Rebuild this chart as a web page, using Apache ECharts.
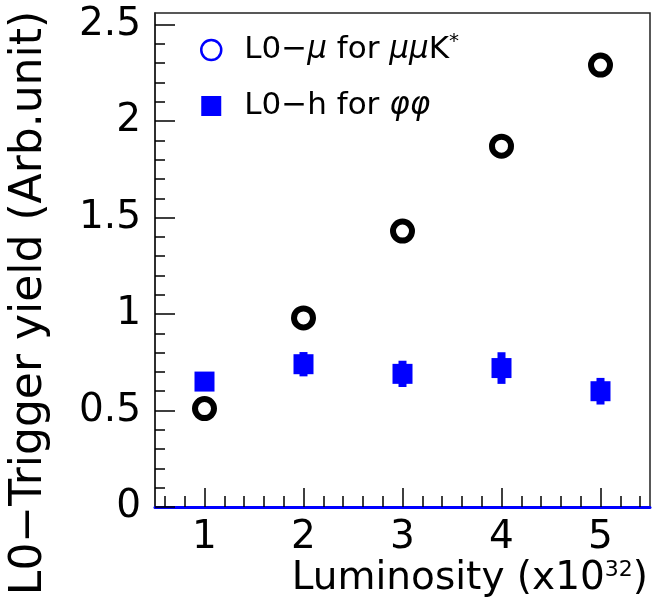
<!DOCTYPE html>
<html>
<head>
<meta charset="utf-8">
<script src="https://cdn.jsdelivr.net/npm/echarts@6/dist/echarts.min.js"></script>
<style>
  html, body { margin: 0; padding: 0; background: #fff; }
  #chart { width: 662px; height: 602px; }
</style>
</head>
<body>
<div id="chart"></div>
<script>
// Luminosity points (units of 1e32)
const luminosity = [1, 2, 3, 4, 5];
// L0-muon trigger yield for mu mu K*
const muonYield = [0.51, 0.98, 1.43, 1.87, 2.29];
// L0-hadron trigger yield for phi phi, with its uncertainty
const hadronYield = [0.65, 0.74, 0.69, 0.72, 0.60];
const hadronErr = [0.03, 0.063, 0.068, 0.082, 0.069];

// Axis ticks
const xMajorTicks = [1, 2, 3, 4, 5];
const yMajorTicks = [0, 0.5, 1, 1.5, 2, 2.5];
const xRange = [0.5, 5.5];
const yRange = [0, 2.56];

function minorTicks(lo, hi, step, majors) {
  const out = [];
  for (let k = Math.ceil(lo / step - 1e-9); k * step <= hi + 1e-9; k++) {
    const v = Math.round(k * step * 1000) / 1000;
    if (!majors.some(m => Math.abs(m - v) < 1e-6)) out.push(v);
  }
  return out;
}
const xMinorTicks = minorTicks(xRange[0], xRange[1], 0.2, xMajorTicks);
const yMinorTicks = minorTicks(yRange[0], 2.5, 0.1, yMajorTicks);

const FONT = 'DejaVu Sans';
const muName = 'L0\u2212\u03bc for \u03bc\u03bcK*';
const phiName = 'L0\u2212h for \u03c6\u03c6';

const chart = echarts.init(document.getElementById('chart'), null, { renderer: 'canvas' });

const tickStyle = { color: '#000', width: 1.5 };

chart.setOption({
  animation: false,
  backgroundColor: '#fff',
  grid: {
    left: 155, right: 12, top: 13, bottom: 95,
    show: true, borderColor: '#222', borderWidth: 1.5, backgroundColor: 'transparent'
  },
  xAxis: [
    {
      type: 'value', min: xRange[0], max: xRange[1], position: 'bottom',
      axisLine: { show: true, lineStyle: { color: '#0000ff', width: 3 } },
      axisTick: { show: true, inside: true, length: 19, lineStyle: tickStyle, customValues: xMajorTicks },
      axisLabel: { customValues: xMajorTicks, fontFamily: FONT, fontSize: 39, color: '#000', margin: 11 },
      splitLine: { show: false }
    },
    {
      type: 'value', min: xRange[0], max: xRange[1], position: 'bottom', offset: 0,
      axisLine: { show: false },
      axisTick: { show: true, inside: true, length: 11, lineStyle: tickStyle, customValues: xMinorTicks },
      axisLabel: { show: false },
      splitLine: { show: false }
    }
  ],
  yAxis: [
    {
      type: 'value', min: yRange[0], max: yRange[1], position: 'left',
      axisLine: { show: true, lineStyle: { color: '#222', width: 1.5 } },
      axisTick: { show: true, inside: true, length: 20, lineStyle: tickStyle, customValues: yMajorTicks },
      axisLabel: { customValues: yMajorTicks, fontFamily: FONT, fontSize: 39, color: '#000', margin: 14 },
      splitLine: { show: false }
    },
    {
      type: 'value', min: yRange[0], max: yRange[1], position: 'left', offset: 0,
      axisLine: { show: false },
      axisTick: { show: true, inside: true, length: 10, lineStyle: tickStyle, customValues: yMinorTicks },
      axisLabel: { show: false },
      splitLine: { show: false }
    }
  ],
  legend: {
    orient: 'vertical',
    left: 195, top: 27,
    itemWidth: 20, itemHeight: 20, itemGap: 20,
    selectedMode: false,
    data: [
      { name: muName, icon: 'circle', itemStyle: { color: '#fff', borderColor: '#0000ff', borderWidth: 2.5 } },
      { name: phiName, icon: 'rect', itemStyle: { color: '#0000ff', borderWidth: 0 } }
    ],
    formatter: function (name) {
      if (name === muName) return 'L0\u2212{i|\u03bc} for {i|\u03bc\u03bc}K{sup|*}';
      return 'L0\u2212h for {i|\u03c6\u03c6}';
    },
    textStyle: {
      fontFamily: FONT, fontSize: 31, color: '#000', lineHeight: 36,
      padding: [0, 0, 0, 18],
      rich: {
        i: { fontFamily: FONT, fontSize: 31, fontStyle: 'italic', color: '#000', lineHeight: 36 },
        sup: { fontFamily: FONT, fontSize: 20, color: '#000', verticalAlign: 'top', lineHeight: 36, padding: [0, 0, 8, 0] }
      }
    }
  },
  graphic: [
    {
      type: 'text',
      x: 30, y: 303,
      rotation: Math.PI / 2,
      style: {
        text: 'L0\u2212Trigger yield (Arb.unit)',
        font: '44px "DejaVu Sans"',
        fill: '#000',
        textAlign: 'center',
        textVerticalAlign: 'middle'
      }
    },
    {
      type: 'text',
      x: 648, y: 579,
      style: {
        text: 'Luminosity (x10{sup|32})',
        font: '39px "DejaVu Sans"',
        fill: '#000',
        textAlign: 'right',
        textVerticalAlign: 'middle',
        rich: {
          sup: { font: '22px "DejaVu Sans"', fill: '#000', verticalAlign: 'top', padding: [0, 0, 14, 0] }
        }
      }
    }
  ],
  series: [
    {
      name: muName,
      type: 'scatter',
      xAxisIndex: 0, yAxisIndex: 0,
      symbol: 'circle',
      symbolSize: 19,
      itemStyle: { color: '#fff', borderColor: '#000', borderWidth: 6, opacity: 1 },
      data: luminosity.map((x, i) => [x, muonYield[i]]),
      z: 3
    },
    {
      name: phiName,
      type: 'custom',
      xAxisIndex: 0, yAxisIndex: 0,
      encode: { x: 0, y: 1 },
      renderItem: function (params, api) {
        const x = api.value(0), y = api.value(1), e = api.value(2);
        const top = api.coord([x, y + e]);
        const bot = api.coord([x, y - e]);
        return {
          type: 'rect',
          shape: { x: top[0] - 4, y: top[1], width: 8, height: bot[1] - top[1] },
          style: { fill: '#0000ff' }
        };
      },
      data: luminosity.map((x, i) => [x, hadronYield[i], hadronErr[i]]),
      z: 3
    },
    {
      name: phiName,
      type: 'scatter',
      xAxisIndex: 0, yAxisIndex: 0,
      symbol: 'rect',
      symbolSize: 20,
      itemStyle: { color: '#0000ff', opacity: 1 },
      data: luminosity.map((x, i) => [x, hadronYield[i]]),
      z: 4
    }
  ]
});
</script>
</body>
</html>
